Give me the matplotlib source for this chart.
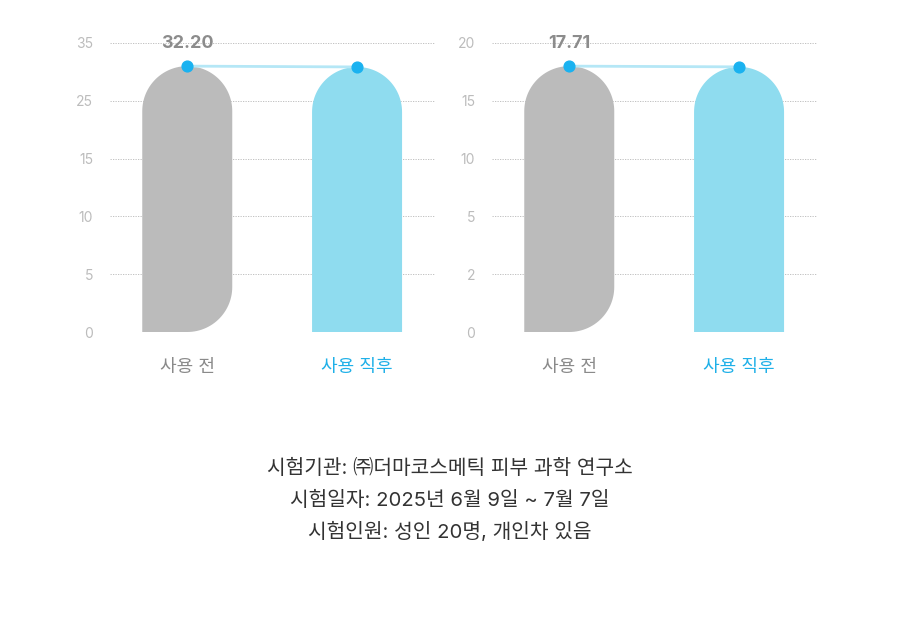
import numpy as np
import matplotlib
matplotlib.use("Agg")
import matplotlib.pyplot as plt
from matplotlib.patches import Polygon

FONTS = ['Inter', 'Noto Sans CJK KR', 'DejaVu Sans']
plt.rcParams['font.family'] = FONTS

# 데이터
categories = ['사용 전', '사용 직후']
left_values = [32.20, 32.10]
right_values = [17.71, 17.66]
left_ticks = ['0', '5', '10', '15', '25', '35']
right_ticks = ['0', '2', '5', '10', '15', '20']
notes = [
    '시험기관: ㈜더마코스메틱 피부 과학 연구소',
    '시험일자: 2025년 6월 9일 ~ 7월 7일',
    '시험인원: 성인 20명, 개인차 있음',
]

GRAY = '#bbbbbb'
CYAN = '#8fdcef'
DOT = '#1ab2f0'
LINE = '#b5e7f6'
TICK = '#bcbcbc'

fig = plt.figure(figsize=(9, 6.36), dpi=100)


def bar_shape(ax, xc, top, width, round_bottom):
    # 픽셀 기준 반지름을 데이터 좌표로 변환
    p0 = ax.transData.transform((0, 0))
    p1 = ax.transData.transform((1, 1))
    sx = p1[0] - p0[0]
    sy = p1[1] - p0[1]
    rx = width / 2
    ry = rx * sx / sy
    x0, x1 = xc - rx, xc + rx
    pts = [(x0, 0)]
    if round_bottom:
        t = np.linspace(-np.pi / 2, 0, 30)
        pts += list(zip(x1 - rx + rx * np.cos(t), ry + ry * np.sin(t)))
    else:
        pts.append((x1, 0))
    t = np.linspace(0, np.pi, 60)
    pts += list(zip(xc + rx * np.cos(t), top - ry + ry * np.sin(t)))
    return pts


def draw_panel(rect, values, ticks):
    ax = fig.add_axes(rect)
    ymax = max(values) / 0.92
    ax.set_xlim(-0.455, 1.459)
    ax.set_ylim(0, ymax)
    pos = np.linspace(0, ymax, len(ticks))
    ax.set_yticks(pos)
    ax.set_yticklabels(ticks)
    ax.set_xticks([])
    for p in pos:
        ax.axhline(p, color='#b8b8b8', lw=0.6, ls=(0, (1.5, 1.5)), zorder=0)
    for s in ax.spines.values():
        s.set_visible(False)
    ax.tick_params(axis='y', length=0, pad=12, labelsize=10, labelcolor=TICK)

    xs = [0, 1]
    width = 0.53
    ax.add_patch(Polygon(bar_shape(ax, xs[0], values[0], width, True),
                         closed=True, fc=GRAY, ec='none', zorder=1))
    ax.add_patch(Polygon(bar_shape(ax, xs[1], values[1], width, False),
                         closed=True, fc=CYAN, ec='none', zorder=1))
    ax.plot(xs, values, color=LINE, lw=2, zorder=2, clip_on=False)
    ax.scatter(xs, values, s=60, color=DOT, zorder=3, clip_on=False)
    ax.annotate(f'{values[0]:.2f}', (xs[0], values[0]), xytext=(0, 16),
                textcoords='offset points', ha='center', va='center',
                fontsize=13, fontweight='bold', color='#8c8c8c')
    ax.text(xs[0], -0.123 * ymax, categories[0], ha='center', va='center',
            fontsize=13, color='#8a8a8a')
    ax.text(xs[1], -0.123 * ymax, categories[1], ha='center', va='center',
            fontsize=13, color='#1fb0e8')
    return ax


draw_panel([110 / 900, 1 - 332 / 636, 325 / 900, 289 / 636], left_values, left_ticks)
draw_panel([492 / 900, 1 - 332 / 636, 325 / 900, 289 / 636], right_values, right_ticks)

for i, line in enumerate(notes):
    fig.text(0.5, 1 - (468 + 32 * i) / 636, line, ha='center', va='center',
             fontsize=14.6, color='#333333')

fig.savefig('out.png', dpi=100)
